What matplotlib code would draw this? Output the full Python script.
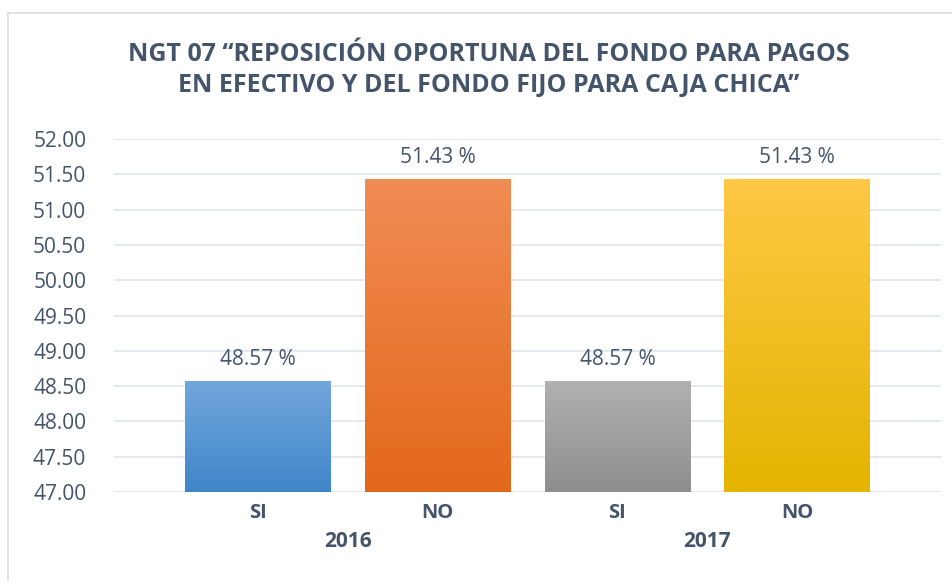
import numpy as np
import matplotlib.pyplot as plt
from matplotlib.colors import LinearSegmentedColormap
from matplotlib.patches import Rectangle

W, H = 953, 581

years = ['2016', '2017']
answers = ['SI', 'NO', 'SI', 'NO']
values = [48.57, 51.43, 48.57, 51.43]
top_colors = ['#72A6DC', '#F18C54', '#B1B1B1', '#FFC845']
bottom_colors = ['#3F86C9', '#E3681A', '#8E8E8E', '#E4B400']
txt = '#44546A'

plt.rcParams['font.family'] = ['Open Sans', 'DejaVu Sans']

fig = plt.figure(figsize=(W / 100, H / 100), dpi=100)
# chart frame
fig.patches.append(Rectangle((8 / W, -0.1), 1.2, 1 - 13 / H + 0.1, transform=fig.transFigure,
                             fill=False, edgecolor='#D9DDE2', lw=1.2))

ax = fig.add_axes([114 / W, 1 - 492 / H, (941 - 114) / W, (492 - 139) / H])
for s in ax.spines.values():
    s.set_visible(False)
ticks = np.arange(47, 52.01, 0.5)
ax.set_yticks(ticks)
ax.set_yticklabels([f'{v:.2f}' for v in ticks], fontsize=15, color=txt)
ax.tick_params(axis='y', length=0, pad=20)
ax.grid(axis='y', color='#E3E6EA', lw=1.3)
ax.set_axisbelow(True)

x = np.arange(len(values))
bars = ax.bar(x, [v - 47 for v in values], bottom=47, width=0.81, color='none')
for i, b in enumerate(bars):
    cmap = LinearSegmentedColormap.from_list('g', [bottom_colors[i], top_colors[i]])
    grad = np.linspace(0, 1, 256).reshape(-1, 1)
    im = ax.imshow(grad, cmap=cmap, origin='lower', aspect='auto',
                   extent=(b.get_x(), b.get_x() + b.get_width(), 47, values[i]), zorder=2)
    im.set_clip_path(b)
    ax.text(x[i], values[i] + 0.16, f'{values[i]:.2f} %', ha='center', va='bottom',
            fontsize=15, color=txt)
ax.set_xlim(-0.8, 3.8)
ax.set_ylim(47, 52)

ax.set_xticks(x)
ax.set_xticklabels(answers, fontsize=14.5, fontweight='bold', color=txt)
ax.tick_params(axis='x', length=0, pad=8)
for j, yr in enumerate(years):
    ax.text(2 * j + 0.5, -0.14, yr, transform=ax.get_xaxis_transform(), ha='center', va='center',
            fontsize=15, fontweight='bold', color=txt)

fig.text(489 / W, 1 - 70 / H, 'NGT 07 \u201cREPOSICI\u00d3N OPORTUNA DEL FONDO PARA PAGOS\nEN EFECTIVO Y DEL FONDO FIJO PARA CAJA CHICA\u201d',
         ha='center', va='center', fontsize=18, fontweight='bold', color=txt, linespacing=1.35)

fig.savefig('out.png', dpi=100)
